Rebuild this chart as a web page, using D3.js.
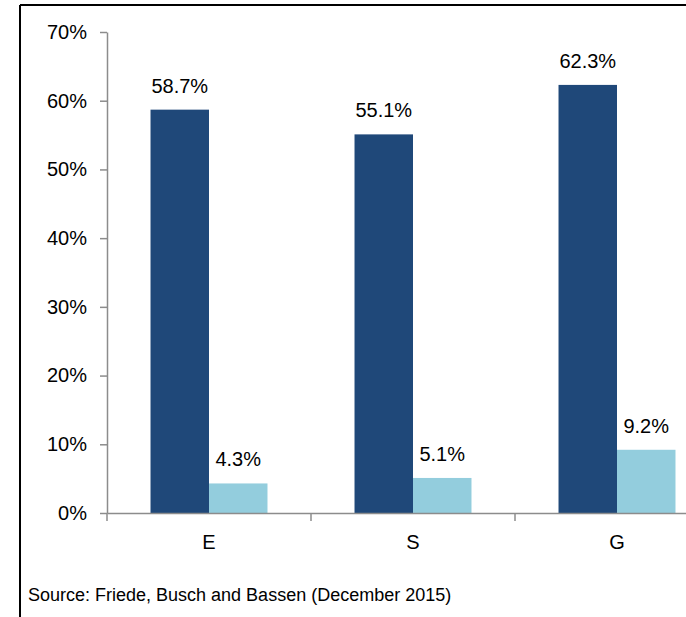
<!DOCTYPE html>
<html>
<head>
<meta charset="utf-8">
<title>ESG</title>
<script src="https://d3js.org/d3.v7.min.js"></script>
<style>
  body { margin: 0; background: #fff; }
  svg { display: block; font-family: "Liberation Sans", Arial, sans-serif; }
  .axis path, .axis line { stroke: #8c8c8c; stroke-width: 1.5; }
  .axis text { fill: #000; font-size: 20px; }
</style>
</head>
<body>
<script>
// Data
var categories = ["E", "S", "G"];
var series = ["positive", "negative"];
var positiveValues = [58.7, 55.1, 62.3];
var negativeValues = [4.3, 5.1, 9.2];
var yTicks = [0, 10, 20, 30, 40, 50, 60, 70];
var sourceText = "Source: Friede, Busch and Bassen (December 2015)";

var colors = { positive: "#1f4879", negative: "#93cddd" };

var width = 686, height = 617;
var svg = d3.select("body").append("svg")
    .attr("width", width)
    .attr("height", height);

// frame (only top and left edges are visible in the picture)
svg.append("line").attr("x1", 20).attr("x2", width).attr("y1", 5).attr("y2", 5)
    .attr("stroke", "#000").attr("stroke-width", 2);
svg.append("line").attr("x1", 20).attr("x2", 20).attr("y1", 5).attr("y2", height)
    .attr("stroke", "#000").attr("stroke-width", 2);

var x = d3.scaleBand().domain(categories).range([107, 719]);
var xs = d3.scaleBand().domain(series).range([0, x.bandwidth()]).paddingOuter(0.744);
var y = d3.scaleLinear().domain([0, 70]).range([513, 32]);

var rows = categories.map(function(c, i) {
    return { cat: c, positive: positiveValues[i], negative: negativeValues[i] };
});

// bars
var groups = svg.selectAll("g.grp")
    .data(rows)
    .enter().append("g")
    .attr("class", "grp")
    .attr("transform", function(d) { return "translate(" + x(d.cat) + ",0)"; });

groups.selectAll("rect")
    .data(function(d) { return series.map(function(s) { return { s: s, v: d[s] }; }); })
    .enter().append("rect")
    .attr("x", function(d) { return xs(d.s); })
    .attr("width", xs.bandwidth())
    .attr("y", function(d) { return y(d.v); })
    .attr("height", function(d) { return y(0) - y(d.v); })
    .attr("fill", function(d) { return colors[d.s]; });

groups.selectAll("text")
    .data(function(d) { return series.map(function(s) { return { s: s, v: d[s] }; }); })
    .enter().append("text")
    .attr("x", function(d) { return xs(d.s) + xs.bandwidth() / 2; })
    .attr("y", function(d) { return y(d.v) - 17; })
    .attr("text-anchor", "middle")
    .attr("font-size", "20px")
    .text(function(d) { return d.v.toFixed(1) + "%"; });

// y axis
svg.append("g")
    .attr("class", "axis")
    .attr("transform", "translate(107,0)")
    .call(d3.axisLeft(y).tickValues(yTicks).tickSize(7).tickSizeOuter(0).tickPadding(13)
        .tickFormat(function(d) { return d + "%"; }));

// x axis
var xAxis = svg.append("g")
    .attr("class", "axis")
    .attr("transform", "translate(0," + y(0) + ")")
    .call(d3.axisBottom(x).tickSize(0).tickSizeOuter(0).tickPadding(22));

xAxis.selectAll(".boundary")
    .data(categories)
    .enter().append("line")
    .attr("class", "boundary")
    .attr("x1", function(d) { return x(d); })
    .attr("x2", function(d) { return x(d); })
    .attr("y1", 0).attr("y2", 8);

svg.append("text")
    .attr("x", 28)
    .attr("y", 601)
    .attr("font-size", "18px")
    .text(sourceText);
</script>
</body>
</html>
